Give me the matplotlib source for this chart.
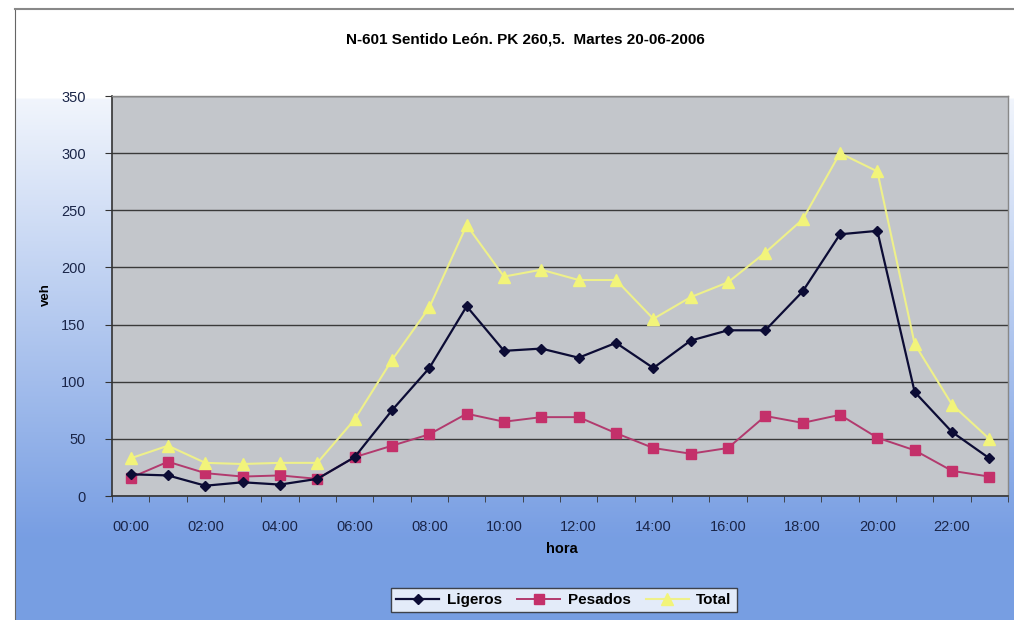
import numpy as np
import matplotlib
matplotlib.use("Agg")
import matplotlib.pyplot as plt

plt.rcParams['font.family'] = ['Liberation Sans', 'DejaVu Sans']

hours = ["00:00", "01:00", "02:00", "03:00", "04:00", "05:00", "06:00", "07:00",
         "08:00", "09:00", "10:00", "11:00", "12:00", "13:00", "14:00", "15:00",
         "16:00", "17:00", "18:00", "19:00", "20:00", "21:00", "22:00", "23:00"]
ligeros = [19, 18, 9, 12, 10, 15, 34, 75, 112, 166, 127, 129, 121, 134, 112, 136,
           145, 145, 179, 229, 232, 91, 56, 33]
pesados = [16, 30, 20, 17, 18, 15, 34, 44, 54, 72, 65, 69, 69, 55, 42, 37,
           42, 70, 64, 71, 51, 40, 22, 17]
total = [33, 44, 29, 28, 29, 29, 67, 119, 165, 237, 192, 198, 189, 189, 155, 174,
         187, 213, 242, 300, 284, 133, 80, 50]
yticks = [0, 50, 100, 150, 200, 250, 300, 350]

W, H = 1014, 620
fig = plt.figure(figsize=(W / 100, H / 100), dpi=100)
fig.patch.set_facecolor('white')

# gradient background of the chart area
bg = fig.add_axes([15 / W, 0, 1 - 15 / W, 1 - 9 / H], zorder=-10)
ny, nx = 300, 50
yy, xx = np.mgrid[0:1:ny * 1j, 0:1:nx * 1j]  # yy: 0 top -> 1 bottom
t = np.where(yy > 0.145, 0.1 + 0.9 * np.clip((yy - 0.145) / 0.72, 0, 1), 0.0)
top = np.array([1.0, 1.0, 1.0])
bot = np.array([0.47, 0.62, 0.89])
img = top[None, None, :] * (1 - t[..., None]) + bot[None, None, :] * t[..., None]
bg.imshow(img, aspect='auto', extent=[0, 1, 0, 1], origin='upper',
          interpolation='bilinear')
bg.set_xlim(0, 1); bg.set_ylim(0, 1)
for s in bg.spines.values():
    s.set_visible(False)
bg.spines['left'].set_visible(True)
bg.spines['top'].set_visible(True)
bg.spines['left'].set_color('#666666')
bg.spines['top'].set_color('#888888')
bg.spines['top'].set_linewidth(1.5)
bg.set_xticks([]); bg.set_yticks([])

ax = fig.add_axes([112 / W, 1 - 496 / H, 896 / W, 400 / H])
ax.set_facecolor('#c3c6cb')
x = np.arange(len(hours))

ax.plot(x, ligeros, color='#0c0c35', lw=1.6, marker='D', ms=5.5,
        mfc='#0c0c35', mec='#0c0c35', label='Ligeros', zorder=4)
ax.plot(x, pesados, color='#b23a6e', lw=1.4, marker='s', ms=7,
        mfc='#c4306a', mec='#c4306a', label='Pesados', zorder=3)
ax.plot(x, total, color='#eef08a', lw=1.5, marker='^', ms=8,
        mfc='#f2f47a', mec='#f2f47a', label='Total', zorder=5)

ax.set_xlim(-0.5, len(hours) - 0.5)
ax.set_ylim(0, 350)
ax.set_yticks(yticks)
ax.set_yticklabels([str(v) for v in yticks])
ax.yaxis.grid(True, color='#3a3a3a', lw=1.0)
ax.set_axisbelow(True)

ax.set_xticks(x[::2])
ax.set_xticklabels(hours[::2])
ax.set_xticks(np.arange(-0.5, len(hours), 1), minor=True)
ax.tick_params(axis='x', which='major', length=0, pad=17, labelsize=10.5,
               labelcolor='#1a2548')
ax.tick_params(axis='x', which='minor', length=4, color='#333333', direction='out')
ax.tick_params(axis='y', length=5, pad=14, labelsize=10.5, labelcolor='#1a2548',
               color='#333333')

for side in ['left', 'bottom']:
    ax.spines[side].set_color('#333333')
    ax.spines[side].set_linewidth(1.2)
for side in ['top', 'right']:
    ax.spines[side].set_color('#888888')
    ax.spines[side].set_linewidth(1.0)

fig.text(525 / W, 1 - 40 / H, "N-601 Sentido León. PK 260,5.  Martes 20-06-2006",
         ha='center', va='center', fontsize=11, fontweight='bold')
fig.text(46 / W, 1 - 295 / H, "veh", rotation=90, ha='center', va='center',
         fontsize=9.5, fontweight='bold')
fig.text(562 / W, 1 - 549 / H, "hora", ha='center', va='center',
         fontsize=10.5, fontweight='bold')

leg = fig.legend(loc='center', bbox_to_anchor=(564 / W, 1 - 600 / H), ncol=3,
                 frameon=True, fancybox=False, edgecolor='#222222',
                 fontsize=11, handlelength=2.8, columnspacing=1.0,
                 handletextpad=0.5, borderpad=0.35)
leg.get_frame().set_linewidth(1.0)
for txt in leg.get_texts():
    txt.set_fontweight('bold')

fig.savefig('out.png', dpi=100)
